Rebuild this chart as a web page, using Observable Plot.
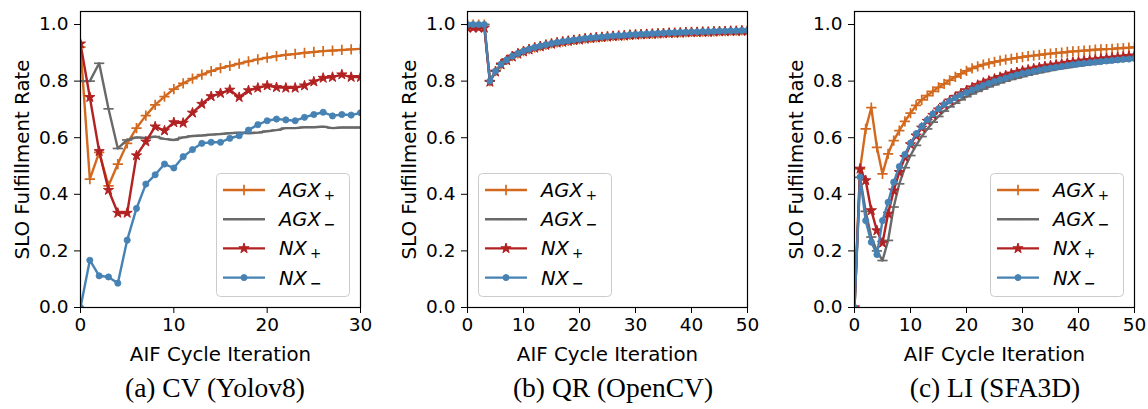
<!DOCTYPE html>
<html><head><meta charset="utf-8">
<script src="https://cdn.jsdelivr.net/npm/d3@7"></script>
<script src="https://cdn.jsdelivr.net/npm/@observablehq/plot@0.6"></script>
<style>
body{margin:0;background:#fff;}
#wrap{position:relative;width:1148px;height:409px;overflow:hidden;font-family:"DejaVu Sans";background:#fff;}
.panel{position:absolute;top:0;width:374px;height:409px;}
.cap{position:absolute;top:372px;font-family:"Liberation Serif";font-size:27.5px;transform:translateX(-50%);white-space:nowrap;color:#000;}
.legend{position:absolute;}
</style></head><body><div id="wrap"></div>
<script>
// ---- data ----
const seriesKeys = ["AGX+", "AGX-", "NX+", "NX-"];
const seriesBase = ["AGX", "AGX", "NX", "NX"];
const seriesSub = ["+", "\u2212", "+", "\u2212"];
const seriesColors = ["#d2691e", "#696969", "#b22222", "#4682b4"];
const yTicks = [0, 0.2, 0.4, 0.6, 0.8, 1.0];
const xTicksCV = [0, 10, 20, 30];
const xTicksLong = [0, 10, 20, 30, 40, 50];
const captions = ["(a) CV (Yolov8)", "(b) QR (OpenCV)", "(c) LI (SFA3D)"];

// (a) CV (Yolov8), iterations 0..30
const cv_AGXp = [0.92,0.454,0.548,0.43,0.507,0.58,0.634,0.678,0.716,0.745,0.772,0.792,0.809,0.823,0.835,0.846,0.854,0.862,0.870,0.877,0.883,0.888,0.893,0.896,0.900,0.903,0.906,0.908,0.910,0.912,0.914];
const cv_AGXm = [0.80,0.80,0.863,0.702,0.562,0.592,0.601,0.599,0.604,0.596,0.592,0.601,0.606,0.608,0.611,0.613,0.616,0.618,0.616,0.618,0.623,0.627,0.634,0.634,0.637,0.637,0.639,0.634,0.636,0.636,0.636];
const cv_NXp = [0.932,0.743,0.552,0.415,0.334,0.334,0.537,0.586,0.639,0.625,0.654,0.652,0.688,0.719,0.746,0.757,0.769,0.743,0.767,0.776,0.784,0.778,0.776,0.776,0.784,0.798,0.811,0.814,0.823,0.814,0.814];
const cv_NXm = [0.0,0.167,0.112,0.108,0.086,0.238,0.350,0.436,0.469,0.507,0.493,0.533,0.558,0.580,0.584,0.584,0.598,0.607,0.627,0.646,0.660,0.666,0.663,0.660,0.672,0.682,0.690,0.677,0.682,0.680,0.688];

// (b) QR (OpenCV), iterations 0..50
const qr_AGXp = [1,1,1,1,0.80,0.835,0.86,0.875,0.888,0.898,0.906,0.913,0.919,0.924,0.929,0.933,0.937,0.940,0.943,0.946,0.948,0.951,0.953,0.955,0.956,0.958,0.960,0.961,0.962,0.964,0.965,0.966,0.967,0.968,0.969,0.970,0.971,0.971,0.972,0.973,0.974,0.974,0.975,0.975,0.976,0.977,0.977,0.978,0.978,0.979,0.979];
const qr_AGXm = [1,1,1,1,0.80,0.835,0.86,0.875,0.888,0.898,0.906,0.913,0.919,0.924,0.929,0.933,0.937,0.940,0.943,0.946,0.948,0.951,0.953,0.955,0.956,0.958,0.960,0.961,0.962,0.964,0.965,0.966,0.967,0.968,0.969,0.970,0.971,0.971,0.972,0.973,0.974,0.974,0.975,0.975,0.976,0.977,0.977,0.978,0.978,0.979,0.979];
const qr_NXp = [0.988,0.988,0.988,0.988,0.797,0.833,0.858,0.873,0.886,0.896,0.904,0.911,0.917,0.922,0.927,0.931,0.935,0.938,0.941,0.944,0.946,0.949,0.951,0.953,0.954,0.956,0.958,0.959,0.960,0.962,0.963,0.964,0.965,0.966,0.967,0.968,0.969,0.969,0.970,0.971,0.972,0.972,0.973,0.973,0.974,0.975,0.975,0.976,0.976,0.977,0.977];
const qr_NXm = [1,1,1,1,0.80,0.835,0.86,0.875,0.888,0.898,0.906,0.913,0.919,0.924,0.929,0.933,0.937,0.940,0.943,0.946,0.948,0.951,0.953,0.955,0.956,0.958,0.960,0.961,0.962,0.964,0.965,0.966,0.967,0.968,0.969,0.970,0.971,0.971,0.972,0.973,0.974,0.974,0.975,0.975,0.976,0.977,0.977,0.978,0.978,0.979,0.979];

// (c) LI (SFA3D), iterations 0..50
const li_AGXp = [0,0.49,0.631,0.706,0.566,0.472,0.543,0.590,0.625,0.658,0.687,0.714,0.734,0.749,0.764,0.778,0.790,0.803,0.815,0.826,0.836,0.845,0.852,0.858,0.863,0.868,0.872,0.876,0.879,0.882,0.885,0.888,0.890,0.893,0.895,0.897,0.899,0.901,0.903,0.905,0.906,0.908,0.909,0.911,0.912,0.913,0.914,0.916,0.917,0.918,0.920];
const li_AGXm = [0,0.46,0.34,0.249,0.20,0.166,0.237,0.355,0.437,0.494,0.537,0.573,0.604,0.631,0.655,0.675,0.694,0.709,0.722,0.734,0.745,0.755,0.764,0.772,0.780,0.787,0.794,0.800,0.806,0.811,0.816,0.821,0.826,0.830,0.834,0.838,0.842,0.845,0.848,0.851,0.854,0.857,0.859,0.862,0.864,0.866,0.868,0.870,0.872,0.874,0.876];
const li_NXp = [0,0.49,0.449,0.343,0.272,0.228,0.331,0.413,0.478,0.531,0.576,0.607,0.635,0.659,0.680,0.699,0.716,0.731,0.744,0.756,0.767,0.777,0.786,0.794,0.801,0.808,0.814,0.820,0.826,0.831,0.836,0.840,0.844,0.848,0.852,0.855,0.858,0.861,0.864,0.867,0.869,0.872,0.874,0.876,0.878,0.880,0.882,0.884,0.886,0.888,0.890];
const li_NXm = [0,0.461,0.307,0.231,0.187,0.307,0.372,0.443,0.498,0.541,0.581,0.614,0.640,0.663,0.684,0.702,0.717,0.730,0.741,0.751,0.760,0.769,0.777,0.785,0.792,0.799,0.805,0.811,0.817,0.822,0.827,0.831,0.835,0.839,0.843,0.846,0.849,0.852,0.855,0.858,0.861,0.863,0.865,0.867,0.869,0.871,0.873,0.875,0.877,0.878,0.880];

// ---- symbols ----
const dashSymbol = {draw(ctx, size) { const h = Math.sqrt(size / Math.PI) * 1.55; ctx.moveTo(-h, 0); ctx.lineTo(h, 0); }};
const markStyles = [
  {symbol: "plus", r: 3.4, fill: "none", strokeWidth: 1.7},
  {symbol: dashSymbol, r: 3.3, fill: "none", strokeWidth: 1.7},
  {symbol: "star", r: 3.2, fill: "c", strokeWidth: 1},
  {symbol: "circle", r: 3.1, fill: "c", strokeWidth: 0.8}
];

function makePanel(values, xmax, xTicks) {
  const marks = [];
  values.forEach((arr, s) => {
    const d = arr.map((v, i) => ({i, v}));
    const ms = markStyles[s];
    marks.push(Plot.line(d, {x: "i", y: "v", stroke: seriesColors[s], strokeWidth: 2.4, clip: true}));
    marks.push(Plot.dot(d, {x: "i", y: "v", symbol: ms.symbol, r: ms.r,
      fill: ms.fill === "c" ? seriesColors[s] : "none", stroke: seriesColors[s], strokeWidth: ms.strokeWidth, clip: true}));
  });
  marks.push(Plot.frame({stroke: "black", strokeWidth: 1.2}));
  const svg = Plot.plot({
    width: 374, height: 372, marginLeft: 80, marginRight: 14, marginTop: 11, marginBottom: 65,
    style: {fontFamily: "DejaVu Sans", fontSize: "18.5px", color: "black", background: "transparent", overflow: "visible"},
    x: {domain: [0, xmax], ticks: xTicks, tickSize: 6, tickPadding: 4, tickFormat: d3.format("d"),
        label: "AIF Cycle Iteration", labelAnchor: "center", labelArrow: "none", labelOffset: 53},
    y: {domain: [0, 1.046], ticks: yTicks, tickSize: 6, tickPadding: 6, tickFormat: d3.format(".1f"),
        label: "SLO Fulfillment Rate", labelAnchor: "center", labelArrow: "none", labelOffset: 66},
    marks
  });
  svg.querySelectorAll('[aria-label="x-axis label"] text, [aria-label="y-axis label"] text').forEach(t => t.style.fontSize = "19.8px");
  return svg;
}

function makeLegend(left, top) {
  const W = 133, H = 123;
  const svg = d3.create("svg").attr("width", W + 2).attr("height", H + 2)
    .attr("class", "legend").style("left", left + "px").style("top", top + "px");
  svg.append("rect").attr("x", 0.5).attr("y", 0.5).attr("width", W).attr("height", H)
    .attr("rx", 4).attr("fill", "rgba(255,255,255,0.8)").attr("stroke", "#cccccc").attr("stroke-width", 1);
  const symTypes = [d3.symbolPlus, null, d3.symbolStar, d3.symbolCircle];
  seriesKeys.forEach((k, s) => {
    const cy = 17 + s * 29.2;
    const g = svg.append("g");
    g.append("line").attr("x1", 7).attr("x2", 49).attr("y1", cy).attr("y2", cy)
      .attr("stroke", seriesColors[s]).attr("stroke-width", 2.4);
    const ms = markStyles[s];
    if (s === 1) {
      g.append("line").attr("x1", 28 - 5).attr("x2", 28 + 5).attr("y1", cy).attr("y2", cy)
        .attr("stroke", seriesColors[s]).attr("stroke-width", 1.7);
    } else {
      g.append("path").attr("transform", `translate(28,${cy})`)
        .attr("d", d3.symbol(symTypes[s], Math.PI * ms.r * ms.r)())
        .attr("fill", ms.fill === "c" ? seriesColors[s] : "none")
        .attr("stroke", seriesColors[s]).attr("stroke-width", ms.strokeWidth);
    }
    const t = g.append("text").attr("x", 63).attr("y", cy + 7).attr("font-size", 19.5)
      .attr("font-family", "DejaVu Sans").attr("fill", "black");
    t.append("tspan").attr("font-style", "italic").text(seriesBase[s]);
    const sub = t.append("tspan").attr("dx", 3).text(seriesSub[s]);
    if (s % 2 === 0) sub.attr("font-size", 13.5).attr("dy", 3);
    else sub.attr("font-size", 14).attr("font-weight", "bold").attr("dy", 3);
  });
  return svg.node();
}

const wrap = document.getElementById("wrap");
const panelDefs = [
  {vals: [cv_AGXp, cv_AGXm, cv_NXp, cv_NXm], xmax: 30, ticks: xTicksCV, left: 0, legLeft: 216, capX: 215},
  {vals: [qr_AGXp, qr_AGXm, qr_NXp, qr_NXm], xmax: 50, ticks: xTicksLong, left: 387, legLeft: 90.5, capX: 613},
  {vals: [li_AGXp, li_AGXm, li_NXp, li_NXm], xmax: 50, ticks: xTicksLong, left: 774, legLeft: 216, capX: 995}
];
panelDefs.forEach((p, k) => {
  const div = document.createElement("div");
  div.className = "panel";
  div.style.left = p.left + "px";
  div.appendChild(makePanel(p.vals, p.xmax, p.ticks));
  const svg = div.querySelector("svg");
  svg.style.position = "absolute"; svg.style.left = "0px"; svg.style.top = "0px";
  div.appendChild(makeLegend(p.legLeft, 173));
  wrap.appendChild(div);
  const cap = document.createElement("div");
  cap.className = "cap";
  cap.style.left = p.capX + "px";
  cap.textContent = captions[k];
  wrap.appendChild(cap);
});
</script>
</body></html>
